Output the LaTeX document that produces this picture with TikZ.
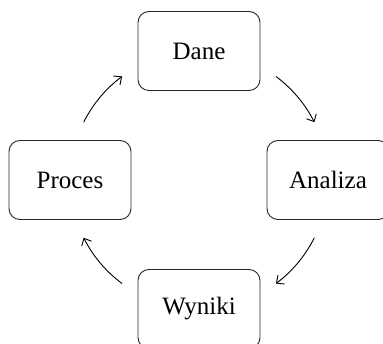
\documentclass[tikz,border=0pt]{standalone}
\usepackage{fontspec}
\setmainfont{Liberation Serif}
\usepackage{tikz}
\usetikzlibrary{arrows.meta, positioning}

\begin{document}
\begin{tikzpicture}[
  x=1pt, y=1pt,
  stagebox/.style={draw=black!85, rounded corners=11pt, minimum width=122pt, minimum height=79pt, line width=0.9pt, font=\fontsize{25}{29}\selectfont},
  cyclearr/.style={line width=0.9pt, -{Straight Barb[length=6pt, width=11pt]}}
]
  \useasboundingbox (-199,-164) rectangle (184,180);
  \coordinate (mid) at (0,0);

  \node[stagebox] (dane) at (0, 129) {Dane};
  \node[stagebox] (analiza) at (129, 0) {Analiza};
  \node[stagebox] (wyniki) at (0, -129) {Wyniki};
  \node[stagebox] (proces) at (-129, 0) {Proces};

  % clockwise arrows round the cycle
  \foreach \s in {153.4, 53.4, -26.6, -126.6}
    \draw[cyclearr] ([shift={(\s:129)}]mid) arc[start angle=\s, delta angle=-26.8, radius=129];
\end{tikzpicture}
\end{document}
